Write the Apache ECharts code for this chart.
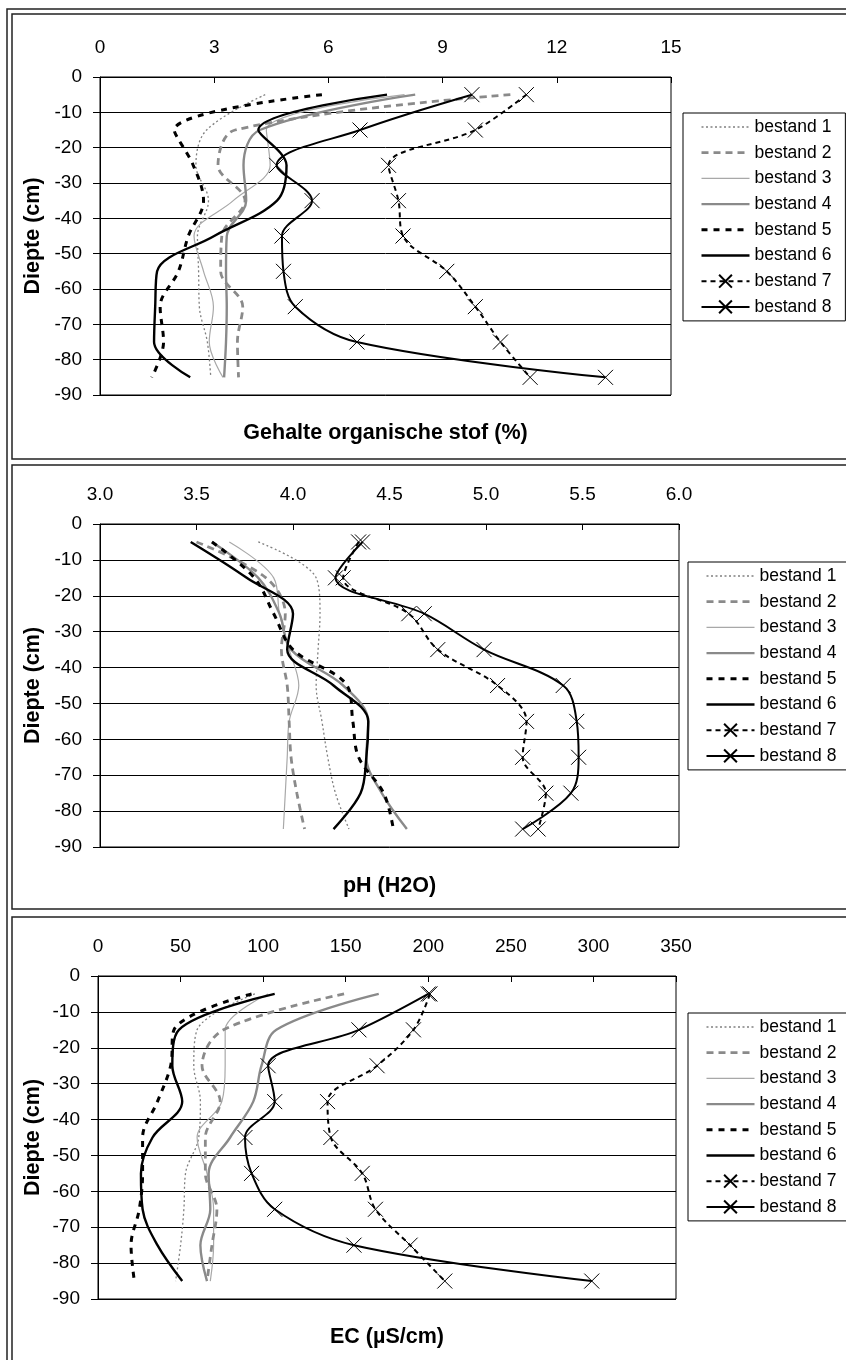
<!DOCTYPE html>
<html>
<head>
<meta charset="utf-8">
<title>Bodemprofielen per bestand</title>
<script src="https://cdn.jsdelivr.net/npm/echarts@6/dist/echarts.min.js"></script>
<style>
  html, body { margin: 0; padding: 0; background: #fff; }
  #chart { width: 846px; height: 1360px; }
</style>
</head>
<body>
<div id="chart"></div>
<script>
// Sampling depths (cm) shared by every profile
const depths = [-5, -15, -25, -35, -45, -55, -65, -75, -85];

const seriesNames = ['bestand 1', 'bestand 2', 'bestand 3', 'bestand 4',
                     'bestand 5', 'bestand 6', 'bestand 7', 'bestand 8'];

// Gehalte organische stof (%) per bestand, top to bottom
const omBestand1 = [4.34, 2.80, 2.52, 2.85, 2.56, 2.59, 2.61, 2.82, 2.91];
const omBestand2 = [10.78, 3.55, 3.10, 3.81, 3.20, 3.17, 3.75, 3.61, 3.64];
const omBestand3 = [8.00, 4.37, 4.47, 3.50, 2.47, 2.72, 2.98, 2.87, 3.23];
const omBestand4 = [8.28, 4.20, 3.77, 3.84, 3.33, 3.31, 3.33, 3.31, 3.26];
const omBestand5 = [5.83, 1.95, 2.45, 2.72, 2.32, 2.06, 1.58, 1.67, 1.36];
const omBestand6 = [7.54, 4.16, 4.90, 4.65, 3.00, 1.50, 1.45, 1.42, 2.37];
const omBestand7 = [11.20, 9.86, 7.58, 7.84, 7.96, 9.11, 9.86, 10.52, 11.30];
const omBestand8 = [9.77, 6.83, 4.64, 5.57, 4.78, 4.82, 5.13, 6.75, 13.28];

// pH (H2O) per bestand
const phBestand1 = [3.82, 4.12, 4.14, 4.13, 4.12, 4.15, 4.18, 4.22, 4.29];
const phBestand2 = [3.50, 3.86, 3.96, 3.94, 3.97, 3.98, 3.99, 4.02, 4.06];
const phBestand3 = [3.67, 3.90, 3.93, 3.98, 4.03, 3.98, 3.97, 3.96, 3.95];
const phBestand4 = [3.58, 3.82, 3.93, 3.99, 4.26, 4.39, 4.38, 4.46, 4.59];
const phBestand5 = [3.58, 3.80, 3.90, 4.00, 4.28, 4.31, 4.34, 4.47, 4.52];
const phBestand6 = [3.47, 3.76, 4.00, 3.97, 4.21, 4.39, 4.38, 4.35, 4.21];
const phBestand7 = [4.34, 4.26, 4.60, 4.75, 5.06, 5.21, 5.19, 5.31, 5.27];
const phBestand8 = [4.36, 4.22, 4.68, 4.99, 5.40, 5.47, 5.48, 5.44, 5.19];

// EC (µS/cm) per bestand
const ecBestand1 = [95, 60, 58, 62, 61, 53, 52, 50, 47];
const ecBestand2 = [149, 76, 63, 74, 65, 65, 72, 69, 66];
const ecBestand3 = [103, 77, 77, 75, 60, 66, 70, 70, 68];
const ecBestand4 = [170, 108, 99, 94, 80, 67, 68, 62, 66];
const ecBestand5 = [93, 46, 44, 36, 27, 27, 25, 20, 22];
const ecBestand6 = [107, 49, 45, 51, 33, 26, 27, 36, 51];
const ecBestand7 = [201, 191, 169, 139, 141, 160, 168, 189, 210];
const ecBestand8 = [200, 158, 103, 107, 89, 93, 107, 155, 299];

const organicMatter = [omBestand1, omBestand2, omBestand3, omBestand4, omBestand5, omBestand6, omBestand7, omBestand8];
const phValues = [phBestand1, phBestand2, phBestand3, phBestand4, phBestand5, phBestand6, phBestand7, phBestand8];
const ecValues = [ecBestand1, ecBestand2, ecBestand3, ecBestand4, ecBestand5, ecBestand6, ecBestand7, ecBestand8];

// Axis ranges and titles
const xRanges = [
  { min: 0, max: 15, interval: 3, decimals: 0 },
  { min: 3, max: 6, interval: 0.5, decimals: 1 },
  { min: 0, max: 350, interval: 50, decimals: 0 }
];
const xTitles = ['Gehalte organische stof (%)', 'pH (H2O)', 'EC (µS/cm)'];
const yTitle = 'Diepte (cm)';

const FONT = '"Liberation Sans", Arial, Helvetica, sans-serif';

// Layout of the three stacked panels
const layout = [
  { grid: { left: 100, top: 77, width: 571, height: 318 },
    legend: { left: 683, top: 113 }, xTitleY: 433, frame: [12, 14, 445] },
  { grid: { left: 100, top: 524, width: 579, height: 323 },
    legend: { left: 688, top: 562 }, xTitleY: 886, frame: [12, 465, 444] },
  { grid: { left: 98, top: 976, width: 578, height: 323 },
    legend: { left: 688, top: 1013 }, xTitleY: 1337, frame: [12, 917, 520] }
];

// Line look per bestand
const styles = [
  { color: '#808080', width: 1.3, type: [2, 2.5], marker: false, z: 2 },
  { color: '#8a8a8a', width: 2.8, type: [7, 5], marker: false, z: 3 },
  { color: '#a8a8a8', width: 1.2, type: 'solid', marker: false, z: 2 },
  { color: '#8a8a8a', width: 2.4, type: 'solid', marker: false, z: 3 },
  { color: '#000000', width: 3, type: [6, 6], marker: false, z: 4 },
  { color: '#000000', width: 2.4, type: 'solid', marker: false, z: 4 },
  { color: '#000000', width: 2, type: [5, 4], marker: true, z: 5 },
  { color: '#000000', width: 2, type: 'solid', marker: true, z: 5 }
];
const CROSS = 'path://M0,0L16,16M16,0L0,16';
const CLEAR = 'rgba(0,0,0,0)';

const panelValues = [organicMatter, phValues, ecValues];

// Legend entries carry the same stroke as their lines
const legendItems = seriesNames.map((name, k) => ({
  name: name,
  lineStyle: { color: styles[k].color, width: styles[k].width, type: styles[k].type }
}));

const grids = [], xAxes = [], yAxes = [], legends = [], series = [], graphics = [];

layout.forEach((L, p) => {
  grids.push(Object.assign({ show: true, borderColor: '#000', borderWidth: 1,
                             backgroundColor: 'transparent', containLabel: false }, L.grid));
  const r = xRanges[p];
  xAxes.push({
    type: 'value', gridIndex: p, position: 'top',
    min: r.min, max: r.max, interval: r.interval,
    axisLine: { show: true, onZero: false, lineStyle: { color: '#000', width: 1 } },
    axisTick: { show: true, inside: true, length: 6, lineStyle: { color: '#000' } },
    axisLabel: { color: '#000', fontSize: 19, fontFamily: FONT, margin: 20,
                 formatter: v => v.toFixed(r.decimals) },
    splitLine: { show: false }
  });
  yAxes.push({
    type: 'value', gridIndex: p, min: -90, max: 0, interval: 10,
    axisLine: { show: true, onZero: false, lineStyle: { color: '#000', width: 1 } },
    axisTick: { show: true, inside: false, length: 7, lineStyle: { color: '#000' } },
    axisLabel: { color: '#000', fontSize: 19, fontFamily: FONT, margin: 18 },
    splitLine: { show: true, lineStyle: { color: '#000', width: 1 } }
  });
  legends.push({
    left: L.legend.left, top: L.legend.top, orient: 'vertical',
    data: legendItems,
    itemWidth: 48, itemHeight: 16, itemGap: 7.7,
    padding: [5, 14, 5, 17],
    borderColor: '#000', borderWidth: 1, backgroundColor: '#fff',
    selectedMode: false,
    textStyle: { color: '#000', fontSize: 17.5, fontFamily: FONT, lineHeight: 18 }
  });

  panelValues[p].forEach((vals, k) => {
    const s = styles[k];
    series.push({
      type: 'line', name: seriesNames[k], xAxisIndex: p, yAxisIndex: p,
      data: depths.map((d, i) => [vals[i], d]),
      smooth: 0.35,
      symbol: s.marker ? CROSS : 'none',
      symbolSize: 15,
      showSymbol: s.marker,
      lineStyle: { color: s.color, width: s.width, type: s.type, cap: 'butt' },
      itemStyle: s.marker
        ? { color: CLEAR, borderColor: '#000', borderWidth: 1 }
        : { color: CLEAR, borderColor: CLEAR, borderWidth: 0 },
      emphasis: { disabled: true },
      z: s.z,
      animation: false
    });
  });

  // panel frame, running past the right and bottom edges
  graphics.push({
    type: 'rect', silent: true, z: -1,
    shape: { x: L.frame[0], y: L.frame[1], width: 900, height: L.frame[2] },
    style: { fill: 'none', stroke: '#222', lineWidth: 1.5 }
  });
  // horizontal axis title under the plot
  graphics.push({
    type: 'text', silent: true,
    x: L.grid.left + L.grid.width / 2, y: L.xTitleY,
    style: { text: xTitles[p], fill: '#000', fontSize: 21.5, fontWeight: 'bold', fontFamily: FONT,
             align: 'center', verticalAlign: 'middle', textAlign: 'center', textVerticalAlign: 'middle' }
  });
  // vertical depth title
  graphics.push({
    type: 'text', silent: true, rotation: Math.PI / 2,
    x: 33, y: L.grid.top + L.grid.height / 2,
    style: { text: yTitle, fill: '#000', fontSize: 21.5, fontWeight: 'bold', fontFamily: FONT,
             align: 'center', verticalAlign: 'middle', textAlign: 'center', textVerticalAlign: 'middle' }
  });
});

// outer frame around all panels
graphics.push({
  type: 'rect', silent: true, z: -1,
  shape: { x: 7, y: 9, width: 900, height: 1400 },
  style: { fill: 'none', stroke: '#222', lineWidth: 1.5 }
});

const chart = echarts.init(document.getElementById('chart'), null, { renderer: 'canvas' });
chart.setOption({
  animation: false,
  backgroundColor: '#fff',
  textStyle: { fontFamily: FONT },
  grid: grids,
  xAxis: xAxes,
  yAxis: yAxes,
  legend: legends,
  series: series,
  graphic: { elements: graphics }
});
</script>
</body>
</html>
